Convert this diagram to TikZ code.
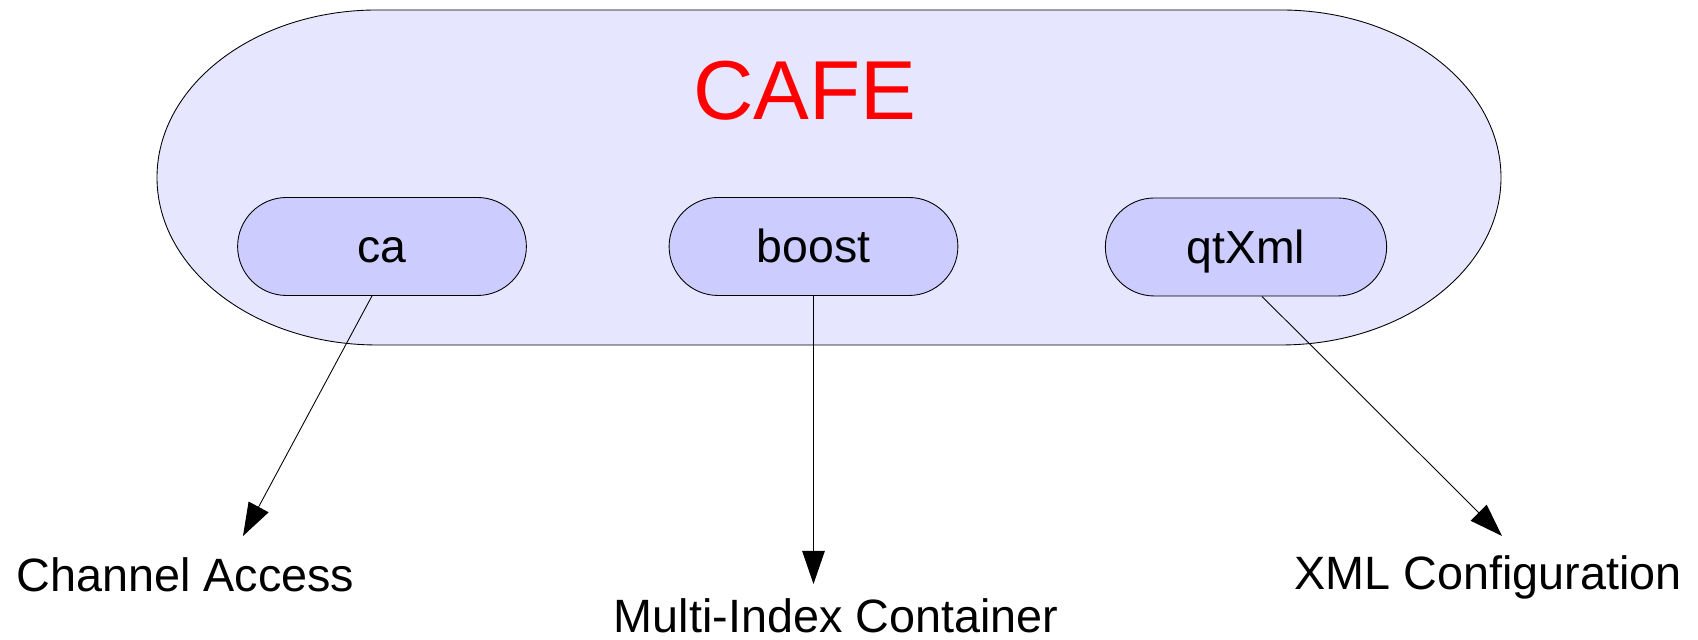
\documentclass[tikz,border=0pt]{standalone}
\usepackage{fontspec}
\setmainfont{Liberation Sans}
\definecolor{cafeFill}{RGB}{230,230,255}
\definecolor{libFill}{RGB}{204,204,255}
\definecolor{cafeRed}{RGB}{255,0,0}
\usetikzlibrary{shapes.misc,arrows.meta}

\begin{document}
\begin{tikzpicture}[
  libNode/.style={draw, line width=0.5pt, fill=libFill, rounded rectangle,
    minimum width=6.01cm, minimum height=1.96cm,
    font=\fontsize{26.4}{30}\selectfont, text height=23.8pt, text depth=5.3pt},
  labelText/.style={anchor=base, inner sep=0pt, font=\fontsize{26.6}{30}\selectfont},
  depArrow/.style={line width=0.5pt, -{Triangle[length=0.66cm, width=0.45cm]}}
]
\useasboundingbox (0,0) rectangle (33.96,12.8);

% Outer capsule
\draw[fill=cafeFill, line width=0.5pt] (7.54,12.6) -- (25.62,12.6)
  arc[start angle=90, end angle=-90, x radius=4.4, y radius=3.35]
  -- (7.54,5.9)
  arc[start angle=270, end angle=90, x radius=4.4, y radius=3.35] -- cycle;
\node[anchor=base, text=cafeRed, font=\fontsize{47.6}{50}\selectfont] (cafe) at (16.1,10.4) {CAFE};

% Libraries
\node[libNode] (ca) at (7.64,7.87) {ca};
\node[libNode] (boost) at (16.27,7.87) {boost};
\node[libNode, minimum width=5.86cm] (qtxml) at (24.92,7.86) {qtXml};

% Labels
\node[labelText] (chan) at (3.71,0.96) {Channel Access};
\node[labelText] (multi) at (16.72,0.14) {Multi-Index Container};
\node[labelText] (xmlconf) at (29.76,1.0) {XML Configuration};

% Arrow tips
\coordinate (chanTip) at (4.86,2.08);
\coordinate (multiTip) at (16.27,1.12);
\coordinate (xmlTip) at (30.04,2.08);

% Arrows
\draw[depArrow] ([xshift=-0.2cm]ca.south) -- (chanTip);
\draw[depArrow] (boost.south) -- (multiTip);
\draw[depArrow] ([xshift=0.32cm]qtxml.south) -- (xmlTip);
\end{tikzpicture}
\end{document}
